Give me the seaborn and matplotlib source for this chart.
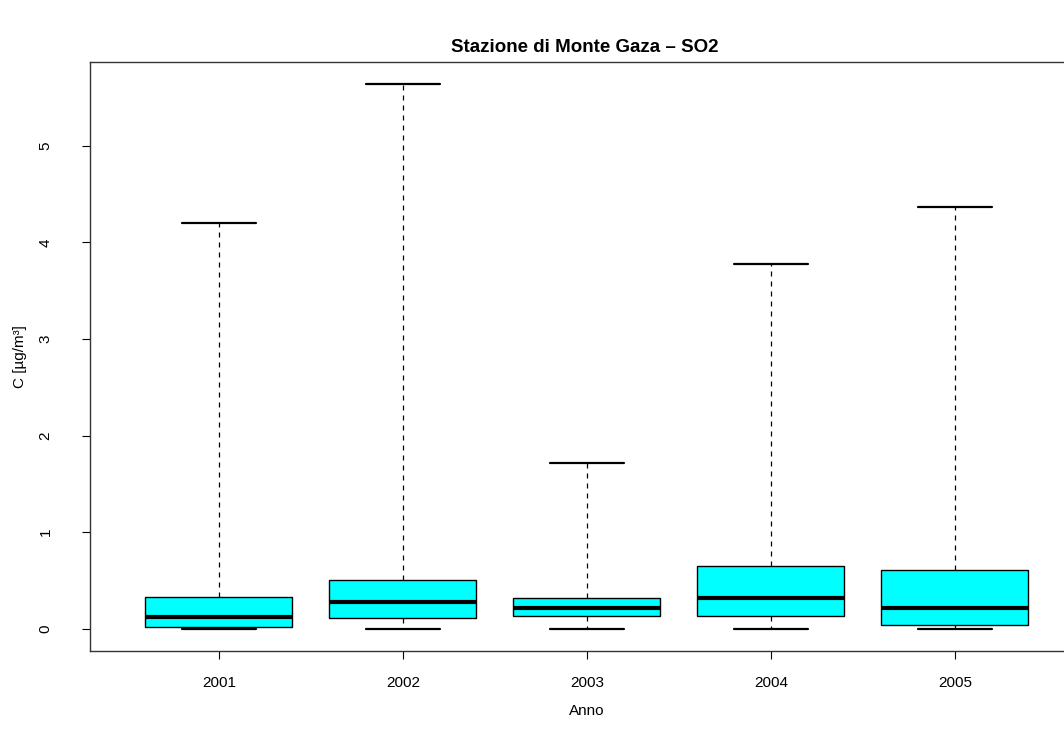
import numpy as np
import pandas as pd
import matplotlib
matplotlib.use("Agg")
import matplotlib.pyplot as plt
import seaborn as sns

years = ["2001", "2002", "2003", "2004", "2005"]
mins = [0.00, 0.00, 0.00, 0.00, 0.00]
q1s = [0.02, 0.11, 0.13, 0.13, 0.04]
medians = [0.12, 0.28, 0.22, 0.32, 0.22]
q3s = [0.33, 0.51, 0.32, 0.65, 0.61]
maxs = [4.20, 5.64, 1.72, 3.78, 4.37]

title = "Stazione di Monte Gaza \u2013 SO2"
xlabel = "Anno"
ylabel = "C [\u00b5g/m\u00b3]"
yticks = [0, 1, 2, 3, 4, 5]

# five-number summaries as rows: boxplot of 5 values gives these exact quartiles
rows = []
for y, a, b, c, d, e in zip(years, mins, q1s, medians, q3s, maxs):
    for v in (a, b, c, d, e):
        rows.append({"Anno": y, "C": v})
df = pd.DataFrame(rows)

sns.set_style("ticks")
plt.rcParams["font.family"] = ["Liberation Sans", "DejaVu Sans"]
plt.rcParams["text.color"] = "black"
plt.rcParams["axes.labelcolor"] = "black"
plt.rcParams["xtick.color"] = "black"
plt.rcParams["ytick.color"] = "black"

fig = plt.figure(figsize=(10.64, 7.29), dpi=100)
ax = fig.add_axes([90 / 1064, (729 - 650.7) / 729, 993.6 / 1064, (650.7 - 62) / 729])

sns.boxplot(
    data=df, x="Anno", y="C", order=years, ax=ax,
    whis=np.inf, width=0.8, color="#00FFFF", saturation=1,
    linecolor="black", linewidth=1.0,
    medianprops=dict(color="black", linewidth=3),
    whiskerprops=dict(color="black", linewidth=0.9, linestyle=(0, (4, 4))),
    capprops=dict(color="black", linewidth=1.6),
)

lo, hi = min(mins), max(maxs)
r = hi - lo
ax.set_ylim(lo - 0.04 * r, hi + 0.04 * r)
ax.set_xlim(-0.7, 4.7)
ax.set_yticks(yticks)
ax.set_yticklabels([str(t) for t in yticks], rotation=90, va="center", fontsize=11)
ax.tick_params(axis="x", labelsize=11, length=6, width=0.8, pad=12)
ax.tick_params(axis="y", length=6, width=0.8, pad=21)
for s in ax.spines.values():
    s.set_visible(True)
    s.set_color("#333333")
    s.set_linewidth(1.0)

ax.set_xlabel(xlabel, fontsize=11, labelpad=10.5)
ax.set_ylabel(ylabel, fontsize=11, labelpad=8)
fig.text(585 / 1064, 1 - 47 / 729, title, ha="center", va="center",
         fontsize=13.5, fontweight="bold", color="black")

fig.savefig("out.png", dpi=100)
